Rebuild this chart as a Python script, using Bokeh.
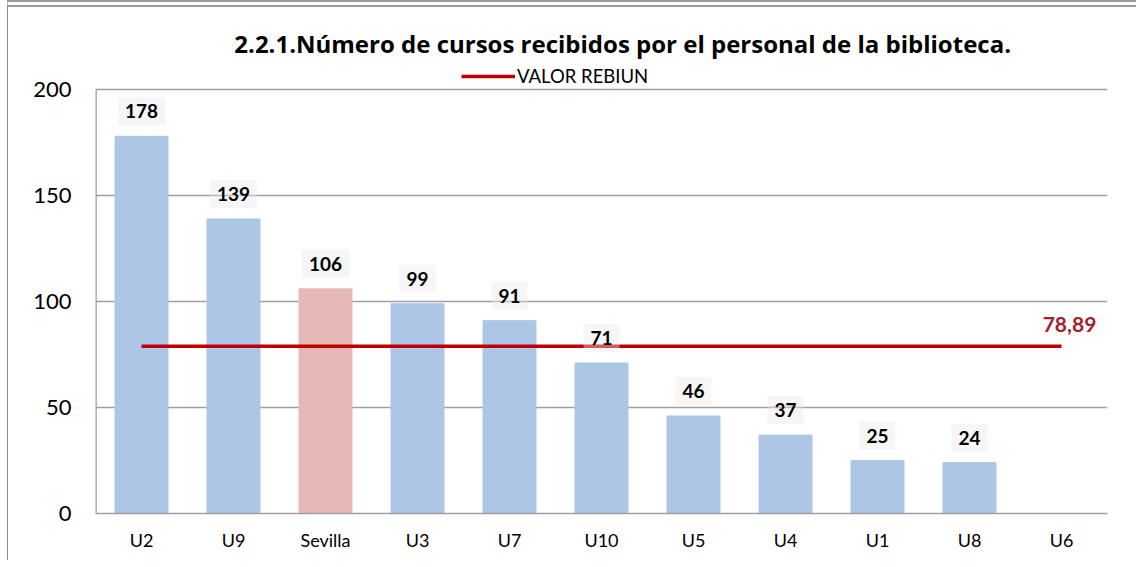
from bokeh.plotting import figure
from bokeh.models import ColumnDataSource, Label, Legend, LegendItem, FactorRange, FixedTicker, Range1d
from bokeh.embed import file_html
from bokeh.resources import INLINE

categories = ["U2", "U9", "Sevilla", "U3", "U7", "U10", "U5", "U4", "U1", "U8", "U6"]
values = [178, 139, 106, 99, 91, 71, 46, 37, 25, 24, 0]
highlight = "Sevilla"
rebiun_value = 78.89
rebiun_text = "78,89"
title_text = "2.2.1.Número de cursos recibidos por el personal de la biblioteca."
legend_text = "VALOR REBIUN"
y_ticks = [0, 50, 100, 150, 200]
y_max = 200

BLUE = "#AEC6E6"
PINK = "#E6B8B7"
RED = "#C00000"
FONT = "Lato"

colors = [PINK if c == highlight else BLUE for c in categories]
src = ColumnDataSource(dict(x=categories, top=values, color=colors))

# y range extends above 200 so the title and legend sit inside the drawing area
p = figure(width=1129, height=560, x_range=FactorRange(*categories), y_range=Range1d(0, 235),
           output_backend="svg", toolbar_location=None,
           min_border_left=87, min_border_right=30, min_border_top=8, min_border_bottom=54)
p.outline_line_color = None
p.background_fill_color = "white"
p.border_fill_color = "white"
p.styles = {"margin-left": "7px", "border-left": "1px solid #8c8c8c",
            "border-top": "7px double #9a9a9a"}

p.vbar(x="x", top="top", width=0.576, color="color", source=src)

# left axis line only up to the top tick
p.segment(x0=[0], y0=[0], x1=[0], y1=[y_max], line_color="#A0A0A0", line_width=2.6)

rline = p.line(x=[categories[0], categories[-1]], y=[rebiun_value, rebiun_value],
               line_color=RED, line_width=3.5)

for i, (c, v) in enumerate(zip(categories, values)):
    if v <= 0:
        continue
    p.add_layout(Label(x=i + 0.5, y=v, text=str(v), text_align="center",
                       text_baseline="middle", y_offset=25, text_font=FONT,
                       text_font_style="bold", text_font_size="19px", text_color="black",
                       background_fill_color="#E8E8E8", background_fill_alpha=0.4,
                       padding=7))

p.add_layout(Label(x=len(categories) - 0.5, y=rebiun_value, text=rebiun_text, text_align="center",
                   text_baseline="middle", x_offset=8, y_offset=22, text_font=FONT,
                   text_font_style="bold", text_font_size="21px", text_color="#A3202E"))

p.add_layout(Label(x=5.73, y=222, text=title_text, text_align="center",
                   text_baseline="alphabetic", text_font="Open Sans", text_font_style="bold",
                   text_font_size="24px", text_color="black"))

leg = Legend(items=[LegendItem(label=legend_text, renderers=[rline])],
             location=(366, 426), label_text_font=FONT, label_text_font_size="18.5px",
             label_text_color="black",
             glyph_width=54, glyph_height=20, label_height=20, label_standoff=2,
             padding=0, margin=0, spacing=0, border_line_color=None,
             background_fill_alpha=0)
p.add_layout(leg, "center")

p.xgrid.grid_line_color = None
p.ygrid.grid_line_color = "#A0A0A0"
p.ygrid.grid_line_width = 1.3
p.yaxis.ticker = FixedTicker(ticks=y_ticks)
for ax in (p.xaxis[0], p.yaxis[0]):
    ax.major_tick_line_color = None
    ax.minor_tick_line_color = None
    ax.major_label_text_font = FONT
    ax.major_label_text_color = "black"
p.xaxis.axis_line_color = "#A0A0A0"
p.xaxis.axis_line_width = 1.3
p.yaxis.axis_line_color = None
p.xaxis.major_label_text_font_size = "18px"
p.yaxis.major_label_text_font_size = "22px"
p.yaxis.major_label_standoff = 18
p.xaxis.major_label_standoff = 9

open("out.html", "w").write(file_html(p, INLINE))
